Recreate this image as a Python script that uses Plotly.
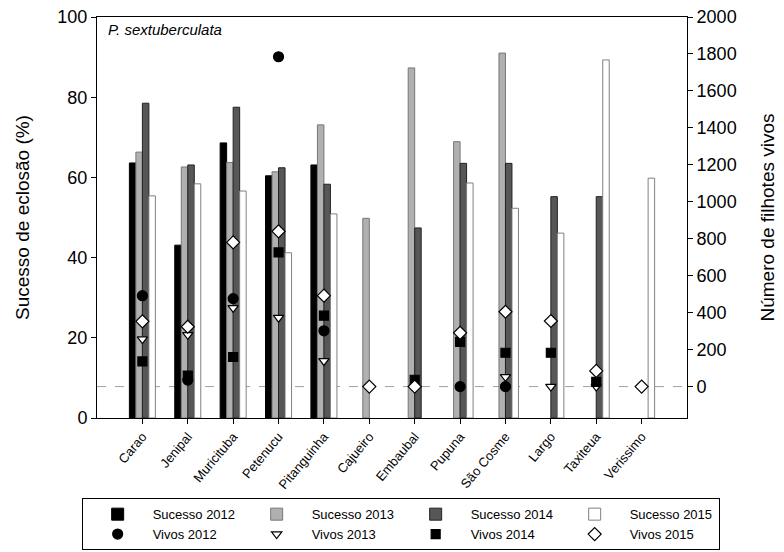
import plotly.graph_objects as go

# Nesting beaches
locais = ["Carao", "Jenipal", "Muricituba", "Petenucu", "Pitanguinha", "Cajueiro",
          "Embaubal", "Pupuna", "São Cosme", "Largo", "Taxiteua", "Verissimo"]

# Hatching success (%) per year
sucesso_2012 = [63.6, 43.1, 68.6, 60.4, 63.1, None, None, None, None, None, None, None]
sucesso_2013 = [66.3, 62.6, 63.7, 61.4, 73.1, 49.8, 87.3, 68.9, 91.0, None, None, None]
sucesso_2014 = [78.5, 63.1, 77.5, 62.4, 58.3, None, 47.4, 63.5, 63.5, 55.2, 55.2, None]
sucesso_2015 = [55.4, 58.4, 56.6, 41.2, 50.9, None, None, 58.6, 52.3, 46.1, 89.3, 59.8]

# Number of live hatchlings per year
vivos_2012 = [492, 35, 476, 1785, 302, None, None, 0, 0, None, None, None]
vivos_2013 = [257, 280, 426, 373, 139, None, None, None, 53, 0, 0, None]
vivos_2014 = [136, 60, 160, 726, 384, None, 37, 242, 183, 183, 26, None]
vivos_2015 = [353, 324, 780, 840, 492, 0, 0, 291, 405, 355, 85, 0]

FONT = "Liberation Sans, Arial, sans-serif"

fig = go.Figure()

bar_styles = [
    ("Sucesso 2012", sucesso_2012, "#000000", "#000000"),
    ("Sucesso 2013", sucesso_2013, "#b0b0b0", "#777777"),
    ("Sucesso 2014", sucesso_2014, "#575757", "#222222"),
    ("Sucesso 2015", sucesso_2015, "#ffffff", "#808080"),
]
for name, vals, fill, edge in bar_styles:
    fig.add_trace(go.Bar(
        x=locais, y=vals, name=name, yaxis="y",
        marker=dict(color=fill, line=dict(color=edge, width=1)),
    ))

marker_styles = [
    ("Vivos 2012", vivos_2012, "circle", "#000000", 10),
    ("Vivos 2013", vivos_2013, "triangle-down", "#ffffff", 9),
    ("Vivos 2014", vivos_2014, "square", "#000000", 9),
    ("Vivos 2015", vivos_2015, "diamond", "#ffffff", 10),
]
for name, vals, sym, fill, size in marker_styles:
    fig.add_trace(go.Scatter(
        x=locais, y=vals, name=name, yaxis="y2", mode="markers",
        marker=dict(symbol=sym, color=fill, size=size,
                    line=dict(color="#000000", width=1.2)),
    ))

fig.update_layout(
    width=784, height=552,
    margin=dict(l=97, r=97, t=17, b=134, autoexpand=False),
    paper_bgcolor="white", plot_bgcolor="white",
    font=dict(family=FONT, size=16, color="black"),
    barmode="group", bargap=0.427, bargroupgap=0,
    showlegend=True,
    legend=dict(
        orientation="h", x=-0.026, xanchor="left", y=-0.2, yanchor="top",
        entrywidth=84, itemwidth=60, traceorder="normal",
        bordercolor="black", borderwidth=1, bgcolor="white",
        font=dict(family=FONT, size=13, color="black"),
    ),
    xaxis=dict(
        type="category", range=[-1, 12],
        showline=True, linecolor="black", linewidth=1, mirror=True,
        ticks="outside", ticklen=5, tickcolor="black",
        tickangle=-50, tickfont=dict(size=13),
        showgrid=False, zeroline=False,
    ),
    yaxis=dict(
        range=[0, 100], tick0=0, dtick=20,
        showline=True, linecolor="black", linewidth=1,
        ticks="outside", ticklen=5, tickcolor="black",
        tickfont=dict(size=18),
        showgrid=False, zeroline=False,
        title=dict(text="Sucesso de eclosão (%)", font=dict(size=19), standoff=22),
    ),
    yaxis2=dict(
        overlaying="y", side="right", range=[-170, 2000], tick0=0, dtick=200,
        showline=True, linecolor="black", linewidth=1,
        ticks="outside", ticklen=5, tickcolor="black",
        tickfont=dict(size=18),
        showgrid=False, zeroline=False,
        title=dict(text="Número de filhotes vivos", font=dict(size=19), standoff=25),
    ),
    annotations=[dict(
        text="<i>P. sextuberculata</i>", xref="paper", yref="paper",
        x=0.015, y=0.995, xanchor="left", yanchor="top", showarrow=False,
        font=dict(family=FONT, size=15, color="black"),
    )],
    shapes=[dict(
        type="line", xref="paper", x0=0, x1=1, yref="y2", y0=0, y1=0,
        line=dict(color="#a0a0a0", width=1, dash="dash"), layer="below",
    )],
)

fig.write_html("out.html")
